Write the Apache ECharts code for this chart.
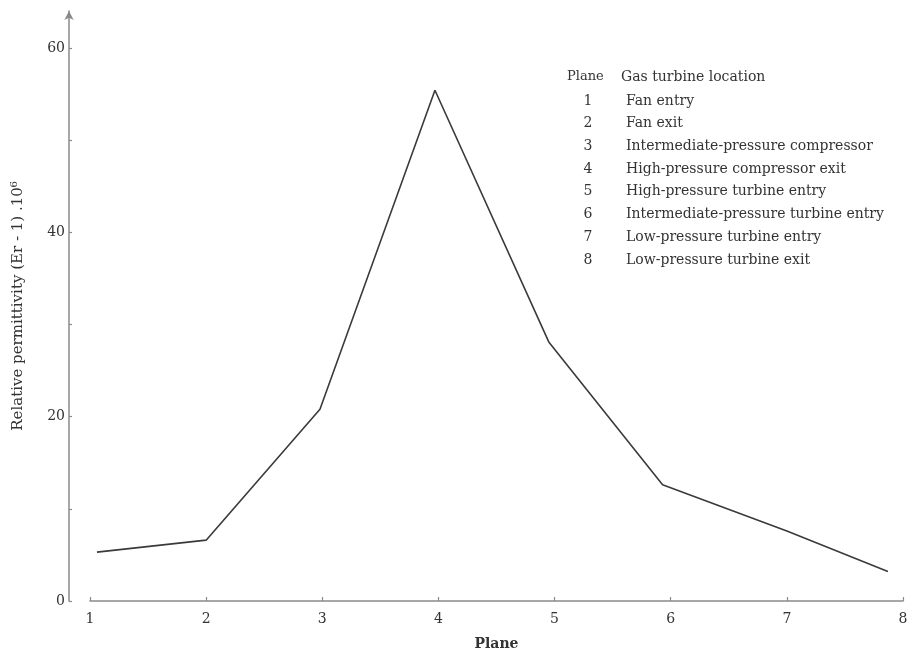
<!DOCTYPE html>
<html>
<head>
<meta charset="utf-8">
<script src="https://cdn.jsdelivr.net/npm/echarts@6/dist/echarts.min.js"></script>
<style>html,body{margin:0;padding:0;background:#fff}#c{width:912px;height:656px}</style>
</head>
<body>
<div id="c"></div>
<script>
var planeX = [1.06, 2.0, 2.98, 3.97, 4.95, 5.93, 7.0, 7.87];
var permittivity = [5.3, 6.6, 20.8, 55.4, 28.1, 12.6, 7.6, 3.2];
var yLabelValues = [0, 20, 40, 60];
var yTickValues = [0, 10, 20, 30, 40, 50, 60];
var legendPlanes = ['1', '2', '3', '4', '5', '6', '7', '8'];
var legendLocations = ['Fan entry', 'Fan exit', 'Intermediate-pressure compressor',
  'High-pressure compressor exit', 'High-pressure turbine entry',
  'Intermediate-pressure turbine entry', 'Low-pressure turbine entry', 'Low-pressure turbine exit'];

var FONT = '"DejaVu Serif", "Liberation Serif", serif';
var TXT = '#333';
var AX = '#8a8a8a';

var graphics = [
  {type: 'text', x: 567, y: 77, style: {text: 'Plane', font: '13px ' + FONT, fill: TXT, verticalAlign: 'middle'}},
  {type: 'text', x: 621, y: 77, style: {text: 'Gas turbine location', font: '14px ' + FONT, fill: TXT, verticalAlign: 'middle'}}
];
legendPlanes.forEach(function (p, i) {
  graphics.push({type: 'text', x: 588, y: 101 + i * 22.7, style: {text: p, font: '14px ' + FONT, fill: TXT, align: 'center', verticalAlign: 'middle'}});
  graphics.push({type: 'text', x: 626, y: 101 + i * 22.7, style: {text: legendLocations[i], font: '14px ' + FONT, fill: TXT, verticalAlign: 'middle'}});
});

var chart = echarts.init(document.getElementById('c'));
chart.setOption({
  backgroundColor: '#fff',
  animation: false,
  grid: {left: 90, right: 9, top: 11, bottom: 53.5, containLabel: false},
  xAxis: {
    type: 'value', min: 1, max: 8, interval: 1,
    name: 'Plane', nameLocation: 'middle', nameGap: 36,
    nameTextStyle: {fontFamily: FONT, fontSize: 14, fontWeight: 'bold', color: TXT},
    axisLine: {show: true, onZero: false, lineStyle: {color: AX, width: 1.5}},
    axisTick: {show: true, inside: true, length: 4, lineStyle: {color: AX, width: 1.2}},
    axisLabel: {fontFamily: FONT, fontSize: 14, color: TXT, margin: 11},
    splitLine: {show: false}
  },
  yAxis: {
    type: 'value', min: 0, max: 64, offset: 21,
    name: 'Relative permittivity (Er - 1) .10\u2076', nameLocation: 'middle', nameGap: 43,
    nameTextStyle: {fontFamily: FONT, fontSize: 15, color: TXT},
    axisLine: {show: true, symbol: ['none', 'arrow'], symbolSize: [7, 9], lineStyle: {color: AX, width: 1.5}},
    axisTick: {show: true, inside: true, length: 3, customValues: yTickValues, lineStyle: {color: AX, width: 1.2}},
    axisLabel: {fontFamily: FONT, fontSize: 14, color: TXT, margin: 4, customValues: yLabelValues},
    splitLine: {show: false}
  },
  graphic: graphics,
  series: [{
    type: 'line',
    data: planeX.map(function (x, i) { return [x, permittivity[i]]; }),
    showSymbol: false,
    lineStyle: {color: '#3a3a3a', width: 1.6},
    itemStyle: {color: '#3a3a3a'}
  }]
});
</script>
</body>
</html>
